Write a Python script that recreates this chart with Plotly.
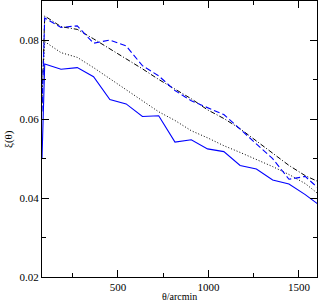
import plotly.graph_objects as go

theta = [80, 95, 185, 275, 365, 455, 545, 635, 725, 815, 905, 995, 1085, 1175, 1265, 1355, 1445, 1535, 1625]

solid_blue = [0.050, 0.0740, 0.0727, 0.0731, 0.0708, 0.0650, 0.0639, 0.0607, 0.0609, 0.0542, 0.0548, 0.0525,
              0.0518, 0.0483, 0.0474, 0.0446, 0.0436, 0.0409, 0.0378]
dashed_blue = [0.062, 0.0857, 0.0833, 0.0837, 0.0793, 0.0801, 0.0786, 0.0736, 0.0710, 0.0673, 0.0647, 0.0629,
               0.0612, 0.0575, 0.0537, 0.0500, 0.0448, 0.0455, 0.0418]
dotted_black = [0.066, 0.0797, 0.0769, 0.0757, 0.0731, 0.0703, 0.0676, 0.0647, 0.0619, 0.0597, 0.0571, 0.0553,
                0.0533, 0.0516, 0.0499, 0.0480, 0.0460, 0.0437, 0.0404]
dashdot_black = [0.064, 0.0862, 0.0835, 0.0828, 0.0804, 0.0779, 0.0753, 0.0728, 0.0701, 0.0677, 0.0652, 0.0624,
                 0.0602, 0.0576, 0.0545, 0.0516, 0.0483, 0.0457, 0.0438]

x_ticks = [500, 1000, 1500]
y_ticks = [0.02, 0.04, 0.06, 0.08]
x_title = "θ/arcmin"
y_title = "ξ(θ)"

fig = go.Figure()
fig.add_trace(go.Scatter(x=theta, y=dotted_black, mode="lines",
                         line=dict(color="black", width=1, dash="1px,2px")))
fig.add_trace(go.Scatter(x=theta, y=dashdot_black, mode="lines",
                         line=dict(color="black", width=1, dash="5px,2px,1px,2px")))
fig.add_trace(go.Scatter(x=theta, y=dashed_blue, mode="lines",
                         line=dict(color="#0000ff", width=1.1, dash="6px,3px")))
fig.add_trace(go.Scatter(x=theta, y=solid_blue, mode="lines",
                         line=dict(color="#0000ff", width=1.1)))

font = dict(family="Liberation Serif, Times New Roman, serif", size=11, color="black")

fig.update_layout(
    width=319, height=301,
    margin=dict(l=42, r=2, t=1, b=24, autoexpand=False),
    paper_bgcolor="white", plot_bgcolor="white",
    showlegend=False,
    font=font,
    xaxis=dict(range=[80, 1600], tickvals=x_ticks, ticks="inside", ticklen=7, tickwidth=1,
               tickcolor="black", showline=True, linecolor="black", linewidth=1, mirror="ticks",
               showgrid=False, zeroline=False, automargin=False,
               minor=dict(dtick=250, tick0=0, ticks="inside", ticklen=4, tickcolor="black", showgrid=False),
               tickfont=dict(size=11)),
    yaxis=dict(range=[0.02, 0.09], tickvals=y_ticks, tickformat=".2f", ticks="inside", ticklen=7,
               tickwidth=1, tickcolor="black", showline=True, linecolor="black", linewidth=1,
               mirror="ticks", showgrid=False, zeroline=False, automargin=False,
               minor=dict(dtick=0.01, tick0=0, ticks="inside", ticklen=4, tickcolor="black", showgrid=False),
               tickfont=dict(size=11)),
    annotations=[
        dict(text=x_title, xref="paper", yref="paper", x=0.5, y=0, yshift=-19,
             xanchor="center", yanchor="middle", showarrow=False, font=dict(size=10)),
        dict(text=y_title, xref="paper", yref="paper", x=0, y=0.5, xshift=-34,
             xanchor="center", yanchor="middle", showarrow=False, textangle=-90, font=dict(size=11)),
    ],
)

fig.write_html("out.html", config={"displayModeBar": False},
               post_script="document.body.style.margin='0';document.body.style.padding='0';")
